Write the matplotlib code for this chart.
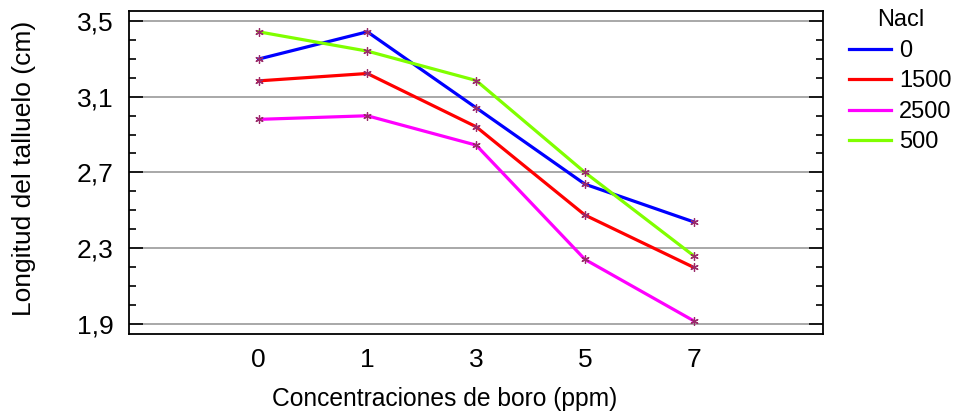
import matplotlib
matplotlib.use('Agg')
import matplotlib.pyplot as plt
import numpy as np
from matplotlib.ticker import FixedLocator, MultipleLocator, FuncFormatter

plt.rcParams['font.family'] = ['Liberation Sans', 'DejaVu Sans']

boro = ['0', '1', '3', '5', '7']
nacl_labels = ['0', '1500', '2500', '500']
nacl_colors = ['#0000ff', '#ff0000', '#ff00ff', '#80ff00']

nacl_0 = [3.298, 3.442, 3.041, 2.638, 2.439]
nacl_1500 = [3.183, 3.222, 2.941, 2.475, 2.199]
nacl_2500 = [2.980, 2.999, 2.844, 2.241, 1.917]
nacl_500 = [3.442, 3.340, 3.185, 2.700, 2.260]

series = [nacl_0, nacl_1500, nacl_2500, nacl_500]

fig = plt.figure(figsize=(9.67, 4.12), dpi=100)
ax = fig.add_axes([0.1334, 0.189, 0.718, 0.784])

xpos = np.arange(len(boro))
for vals, lab, col in zip(series, nacl_labels, nacl_colors):
    ax.plot(xpos, vals, color=col, lw=2.3, label=lab, zorder=3)
    ax.plot(xpos, vals, ls='none', marker=(6, 2, 0), ms=6, mew=0.9,
            color='#9a2a6a', zorder=4)

ax.set_xlim(-1.19, 5.19)
ax.set_ylim(1.847, 3.551)
ax.set_xticks(xpos)
ax.set_xticklabels(boro)
ax.yaxis.set_major_locator(FixedLocator([1.9, 2.3, 2.7, 3.1, 3.5]))
ax.yaxis.set_minor_locator(MultipleLocator(0.1))
ax.yaxis.set_major_formatter(FuncFormatter(lambda v, p: f'{v:.1f}'.replace('.', ',')))

ax.grid(axis='y', which='major', color='#999999', lw=1.2, zorder=0)
ax.tick_params(axis='y', which='major', direction='in', length=10, width=1.2,
               right=True, labelsize=19, pad=11)
ax.tick_params(axis='y', which='minor', direction='in', length=5, width=1.2,
               right=True)
ax.tick_params(axis='x', length=0, labelsize=19, pad=10)
for s in ax.spines.values():
    s.set_linewidth(1.3)

fig.text(24 / 967, 1 - 168 / 412, 'Longitud del talluelo (cm)', rotation=90,
         ha='center', va='center', fontsize=19)
# reference cuts this label at the bottom edge; keep it just inside
fig.text(445 / 967, 1 - 399 / 412, 'Concentraciones de boro (ppm)',
         ha='center', va='center', fontsize=17.7)

leg = ax.legend(title='Nacl', loc='upper left', bbox_to_anchor=(840 / 967, 1.0),
                bbox_transform=fig.transFigure, frameon=False, fontsize=17,
                title_fontsize=17, handlelength=1.75, handletextpad=0.35,
                labelspacing=0.36, borderaxespad=0)
for h in leg.get_lines():
    h.set_linewidth(2.3)

fig.savefig('out.png', dpi=100)
